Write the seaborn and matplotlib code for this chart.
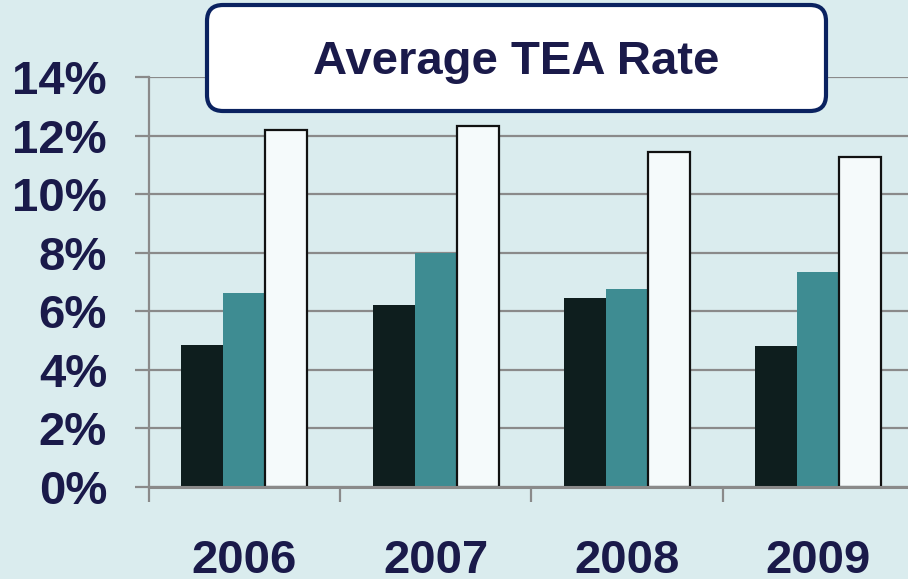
import matplotlib
matplotlib.use("Agg")
import matplotlib.pyplot as plt
import matplotlib.transforms as mtransforms
from matplotlib.patches import FancyBboxPatch
from matplotlib.ticker import FixedLocator, FuncFormatter
import seaborn as sns
import pandas as pd

# Average TEA rate (%) by year for three groups
years = ["2006", "2007", "2008", "2009"]
groups = ["Group 1", "Group 2", "Group 3"]
group1 = [4.85, 6.2, 6.45, 4.8]
group2 = [6.62, 8.0, 6.76, 7.34]
group3 = [12.18, 12.32, 11.45, 11.26]

title = "Average TEA Rate"
y_ticks = [0, 2, 4, 6, 8, 10, 12, 14]

bg = "#DAECEE"
ink = "#1A1A4A"
grid_gray = "#8A8A8A"
palette = ["#0E1E1E", "#3E8C92", "#F5FAFB"]

df = pd.DataFrame({
    "year": years * 3,
    "group": [g for g in groups for _ in years],
    "value": group1 + group2 + group3,
})

plt.rcParams["font.family"] = ["Liberation Sans", "DejaVu Sans"]
plt.rcParams["font.weight"] = "bold"

fig = plt.figure(figsize=(9.08, 5.79), dpi=100, facecolor=bg)
ax = fig.add_axes([148.7 / 908, 92 / 579, 765.3 / 908, 410 / 579])
ax.set_facecolor(bg)

sns.barplot(data=df, x="year", y="value", hue="group", palette=palette,
            width=0.66, dodge=True, order=years, hue_order=groups,
            saturation=1, legend=False, ax=ax, linewidth=0)

# outline only the light bars
for patch in ax.containers[2]:
    patch.set_edgecolor("#111111")
    patch.set_linewidth(1.6)

ax.set_xlim(-0.5, 3.5)
ax.set_ylim(0, 14)
ax.set_xlabel("")
ax.set_ylabel("")

ax.yaxis.set_major_locator(FixedLocator(y_ticks))
ax.yaxis.set_major_formatter(FuncFormatter(lambda v, p: f"{v:.0f}%"))
ax.tick_params(axis="y", length=10, width=1.6, color=grid_gray, pad=20,
               labelsize=34, labelcolor=ink)

# category separators as major ticks, year labels on minor ticks
ax.xaxis.set_major_locator(FixedLocator([-0.5, 0.5, 1.5, 2.5, 3.5]))
ax.xaxis.set_major_formatter(FuncFormatter(lambda v, p: ""))
ax.xaxis.set_minor_locator(FixedLocator(range(len(years))))
ax.set_xticklabels(years, minor=True)
ax.tick_params(axis="x", which="major", length=10.5, width=1.6, color=grid_gray)
ax.tick_params(axis="x", which="minor", length=0, pad=37.5,
               labelsize=34, labelcolor=ink)
for lbl in ax.get_xticklabels(minor=True) + ax.get_yticklabels():
    lbl.set_fontweight("bold")

ax.grid(axis="y", color=grid_gray, linewidth=1.6)
ax.grid(axis="x", visible=False)
ax.set_axisbelow(True)
for side in ("top", "right"):
    ax.spines[side].set_visible(False)
ax.spines["left"].set_color(grid_gray)
ax.spines["left"].set_linewidth(1.6)
ax.spines["bottom"].set_color(grid_gray)
ax.spines["bottom"].set_linewidth(2.2)

# rounded title box, placed in pixel units
px = mtransforms.IdentityTransform()
box = FancyBboxPatch((207, 468), 619, 106,
                     boxstyle="round,pad=0,rounding_size=16",
                     facecolor="white", edgecolor="#0A2260", linewidth=3,
                     transform=px, zorder=10)
fig.patches.append(box)
fig.text(516 / 908, (579 - 62) / 579, title, ha="center", va="center",
         fontsize=34, fontweight="bold", color=ink, zorder=11)

fig.savefig("out.png", dpi=100, facecolor=bg)
